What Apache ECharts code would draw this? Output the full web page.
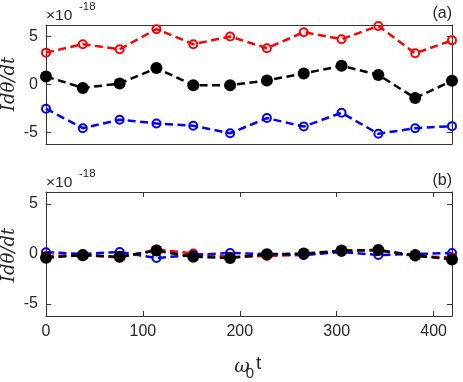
<!DOCTYPE html>
<html>
<head>
<meta charset="utf-8">
<script src="https://cdn.jsdelivr.net/npm/echarts@6/dist/echarts.min.js"></script>
<style>
html,body{margin:0;padding:0;background:#fff;}
#chart{width:463px;height:382px;}
</style>
</head>
<body>
<div id="chart"></div>
<script>
// x positions (omega_0 t)
const xValues = [0, 38, 76, 114, 152, 190, 228, 266, 305, 343, 381, 419];
const xTicks = [0, 100, 200, 300, 400];
const yTicks = [-5, 0, 5];

// panel (a), units of 1e-18
const aRed   = [3.32, 4.2, 3.67, 5.77, 4.2, 5.0, 3.78, 5.45, 4.72, 6.1, 3.25, 4.6];
const aBlack = [0.84, -0.36, 0.1, 1.71, -0.07, -0.07, 0.42, 1.15, 1.95, 1.0, -1.41, 0.38];
const aBlue  = [-2.52, -4.55, -3.67, -4.06, -4.3, -5.08, -3.5, -4.38, -2.94, -5.14, -4.55, -4.34];

// panel (b)
const bRed   = [-0.2, -0.1, -0.35, 0.45, 0.05, -0.3, -0.2, -0.1, 0.35, 0.35, -0.2, -0.35];
const bBlue  = [0.18, 0.0, 0.2, -0.4, -0.1, 0.1, 0.0, -0.1, 0.2, -0.1, 0.0, 0.1];
const bBlack = [-0.37, -0.12, -0.28, 0.34, -0.28, -0.4, -0.02, 0.05, 0.34, 0.41, -0.15, -0.54];

const axisColor = '#333';
const textColor = '#262626';
const labelFont = 'Liberation Sans, Arial, sans-serif';

function pairs(ys){ return xValues.map((x,i)=>[x, ys[i]]); }

function openSeries(name, ys, color, gi){
  return {
    name, type:'line', xAxisIndex: gi*2, yAxisIndex: gi*2, data: pairs(ys),
    symbol:'circle', symbolSize: 8, clip:false, z: 2,
    lineStyle:{color, width:2.5, type:[8,4.5]},
    itemStyle:{color:'rgba(0,0,0,0)', borderColor:color, borderWidth:2},
    emphasis:{disabled:true}, animation:false
  };
}
function filledSeries(name, ys, gi){
  return {
    name, type:'line', xAxisIndex: gi*2, yAxisIndex: gi*2, data: pairs(ys),
    symbol:'circle', symbolSize: 12, clip:false, z: 3,
    lineStyle:{color:'#000', width:2.5, type:[8,4.5]},
    itemStyle:{color:'#000'},
    emphasis:{disabled:true}, animation:false
  };
}

function xAxisDef(gi, position, showLabels, showTicks){
  return {
    type:'value', gridIndex: gi, min:0, max:419, position,
    axisLine:{show:true, onZero:false, lineStyle:{color:axisColor, width:1}},
    axisTick:{show:showTicks, inside:true, length:5, customValues:xTicks, lineStyle:{color:axisColor}},
    axisLabel:{show:showLabels, customValues:xTicks, color:textColor, fontFamily:labelFont, fontSize:16, margin:8},
    splitLine:{show:false}
  };
}
function yAxisDef(gi, position, showLabels){
  return {
    type:'value', gridIndex: gi, min:-6.2, max:6.2, position,
    axisLine:{show:true, onZero:false, lineStyle:{color:axisColor, width:1}},
    axisTick:{show:true, inside:true, length:5, customValues:yTicks, lineStyle:{color:axisColor}},
    axisLabel:{show:showLabels, customValues:yTicks, color:textColor, fontFamily:labelFont, fontSize:16, margin:8},
    splitLine:{show:false}
  };
}

const chart = echarts.init(document.getElementById('chart'), null, {renderer:'canvas'});

const yLabelStyle = {text:'Idθ/dt', fontFamily:'DejaVu Serif, serif', fontStyle:'italic', fontSize:18, fill:textColor, align:'center', verticalAlign:'middle'};

chart.setOption({
  backgroundColor:'#fff',
  animation:false,
  grid:[
    {left:46, top:25, width:406, height:119, show:false},
    {left:46, top:192, width:406, height:124, show:false}
  ],
  xAxis:[
    xAxisDef(0,'bottom',false,false),
    xAxisDef(0,'top',false,false),
    xAxisDef(1,'bottom',true,true),
    xAxisDef(1,'top',false,true)
  ],
  yAxis:[
    yAxisDef(0,'left',true),
    yAxisDef(0,'right',false),
    yAxisDef(1,'left',true),
    yAxisDef(1,'right',false)
  ],
  series:[
    openSeries('a-red', aRed, '#ff0000', 0),
    filledSeries('a-black', aBlack, 0),
    openSeries('a-blue', aBlue, '#0000ff', 0),
    openSeries('b-red', bRed, '#ff0000', 1),
    openSeries('b-blue', bBlue, '#0000ff', 1),
    filledSeries('b-black', bBlack, 1)
  ],
  graphic:[
    {type:'text', x:9, y:84, rotation:Math.PI/2, style:yLabelStyle},
    {type:'text', x:9, y:255, rotation:Math.PI/2, style:yLabelStyle},
    {type:'text', x:46, y:16, style:{text:'×10', fontFamily:labelFont, fontSize:15.5, fill:textColor, align:'left', verticalAlign:'middle'}},
    {type:'text', x:79, y:7, style:{text:'-18', fontFamily:labelFont, fontSize:11.5, fill:textColor, align:'left', verticalAlign:'middle'}},
    {type:'text', x:46, y:183, style:{text:'×10', fontFamily:labelFont, fontSize:15.5, fill:textColor, align:'left', verticalAlign:'middle'}},
    {type:'text', x:79, y:174, style:{text:'-18', fontFamily:labelFont, fontSize:11.5, fill:textColor, align:'left', verticalAlign:'middle'}},
    {type:'text', x:452, y:14, style:{text:'(a)', fontFamily:labelFont, fontSize:16, fill:textColor, align:'right', verticalAlign:'middle'}},
    {type:'text', x:452, y:181, style:{text:'(b)', fontFamily:labelFont, fontSize:16, fill:textColor, align:'right', verticalAlign:'middle'}},
    {type:'text', x:242, y:367, style:{text:'ω', fontFamily:'DejaVu Serif, serif', fontStyle:'italic', fontSize:19, fill:textColor, align:'center', verticalAlign:'middle'}},
    {type:'text', x:250, y:374, style:{text:'0', fontFamily:labelFont, fontSize:15, fill:textColor, align:'center', verticalAlign:'middle'}},
    {type:'text', x:256, y:364, style:{text:'t', fontFamily:labelFont, fontSize:19, fill:textColor, align:'left', verticalAlign:'middle'}}
  ]
});
</script>
</body>
</html>
